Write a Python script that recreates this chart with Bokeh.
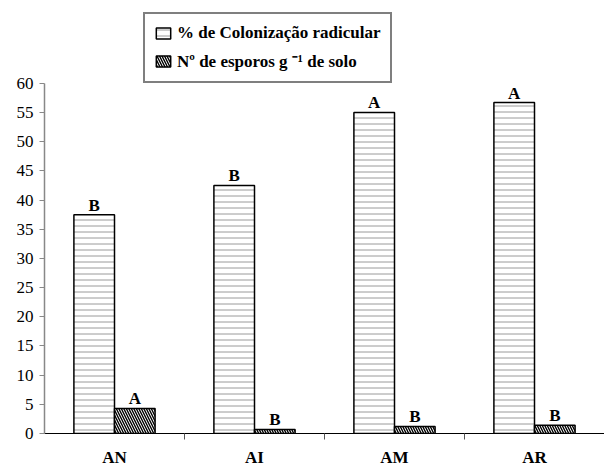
from bokeh.plotting import figure
from bokeh.models import ColumnDataSource, FixedTicker, Legend, LegendItem, Range1d
from bokeh.core.properties import value
from bokeh.embed import file_html
from bokeh.resources import INLINE

categories = ["AN", "AI", "AM", "AR"]
colonizacao = [37.5, 42.5, 55.0, 56.7]
esporos = [4.3, 0.7, 1.2, 1.4]
letras_col = ["B", "B", "A", "A"]
letras_esp = ["A", "B", "B", "B"]
y_ticks = list(range(0, 61, 5))

FONT = "Liberation Serif"
centers = [i + 0.5 for i in range(len(categories))]
bw = 0.29

src = ColumnDataSource(dict(
    xc=[c - bw / 2 for c in centers],
    xe=[c + bw / 2 for c in centers],
    col=colonizacao, esp=esporos, lc=letras_col, le=letras_esp,
))

p = figure(width=604, height=469, output_backend="svg", toolbar_location=None,
           x_range=Range1d(0, len(categories)), y_range=Range1d(0, 74.19),
           min_border_left=44, min_border_right=0, min_border_top=0, min_border_bottom=34)
p.outline_line_color = None
p.background_fill_color = "white"
p.xgrid.visible = False
p.ygrid.visible = False

r1 = p.vbar(x="xc", top="col", width=bw, source=src, fill_color="white",
            line_color="black", line_width=1.5,
            hatch_pattern="horizontal_line", hatch_color="#9a9a9a",
            hatch_scale=6, hatch_weight=1)
r2 = p.vbar(x="xe", top="esp", width=bw, source=src, fill_color="white",
            line_color="black", line_width=1.5,
            hatch_pattern="left_diagonal_line", hatch_color="black",
            hatch_scale=5, hatch_weight=1.4)

p.text(x="xc", y="col", text="lc", source=src, text_font=value(FONT),
       text_font_style="bold", text_font_size="17px", text_align="center",
       text_baseline="bottom", y_offset=0, text_color="black")
p.text(x="xe", y="esp", text="le", source=src, text_font=value(FONT),
       text_font_style="bold", text_font_size="17px", text_align="center",
       text_baseline="bottom", y_offset=0, text_color="black")

# y axis
p.yaxis.ticker = FixedTicker(ticks=y_ticks)
p.yaxis.bounds = (0, 60)
p.yaxis.axis_line_color = "#888888"
p.yaxis.axis_line_width = 1.5
p.yaxis.major_tick_line_color = "#888888"
p.yaxis.major_tick_in = 0
p.yaxis.major_tick_out = 5
p.yaxis.minor_tick_line_color = None
p.yaxis.major_label_text_font = FONT
p.yaxis.major_label_text_font_size = "17px"
p.yaxis.major_label_text_color = "black"
p.yaxis.major_label_standoff = 6

# x axis
p.xaxis.ticker = FixedTicker(ticks=centers, minor_ticks=list(range(1, len(categories))))
p.xaxis.major_label_overrides = {c: lab for c, lab in zip(centers, categories)}
p.xaxis.major_tick_in = 0
p.xaxis.major_tick_out = 0
p.xaxis.minor_tick_in = 0
p.xaxis.minor_tick_out = 6
p.xaxis.minor_tick_line_color = "#555555"
p.xaxis.axis_line_color = "black"
p.xaxis.major_label_text_font = FONT
p.xaxis.major_label_text_font_style = "bold"
p.xaxis.major_label_text_font_size = "17px"
p.xaxis.major_label_text_color = "black"
p.xaxis.major_label_standoff = 8

legend = Legend(items=[
    LegendItem(label="% de Colonização radicular", renderers=[r1]),
    LegendItem(label="Nº de esporos g ⁻¹ de solo", renderers=[r2]),
])
legend.label_text_font = FONT
legend.label_text_font_style = "bold"
legend.label_text_font_size = "17px"
legend.label_text_color = "black"
legend.border_line_color = "black"
legend.border_line_width = 2
legend.glyph_width = 18
legend.glyph_height = 14
legend.label_height = 20
legend.spacing = 6
legend.padding = 9
legend.margin = 0
legend.label_standoff = 5
legend.background_fill_alpha = 1
legend.location = (99, 350)
p.add_layout(legend, "center")

open("out.html", "w").write(file_html(p, INLINE))
